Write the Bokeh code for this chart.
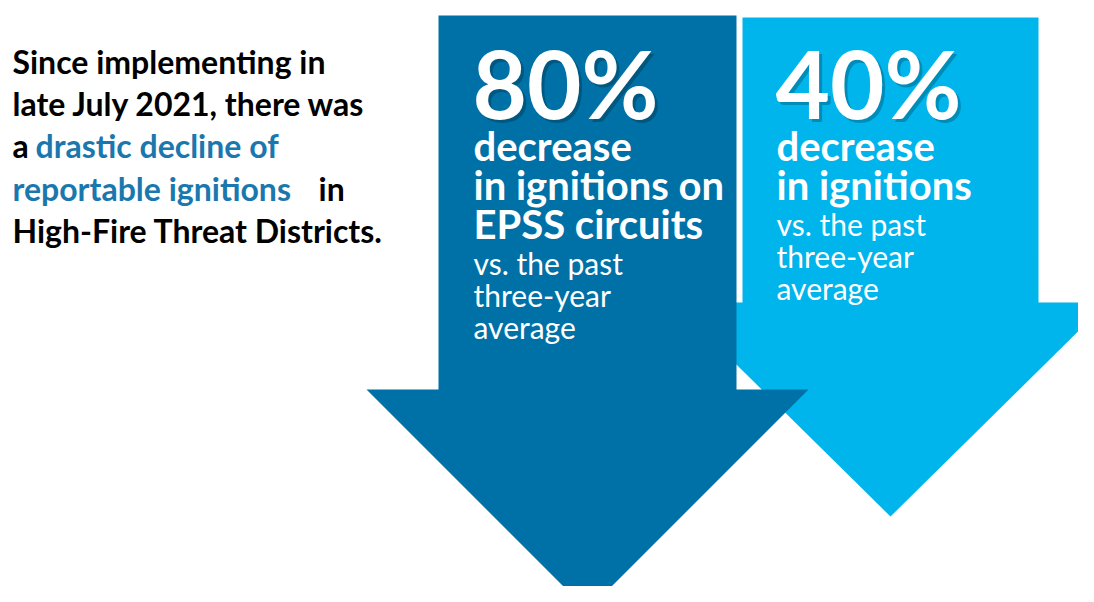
from bokeh.plotting import figure
from bokeh.models import Range1d
from bokeh.core.properties import value
from bokeh.embed import file_html
from bokeh.resources import INLINE

# ---------------- data ----------------
pct_labels = ["80%", "40%"]
pct_values = [80, 40]
headlines = [["decrease", "in ignitions on", "EPSS circuits"],
             ["decrease", "in ignitions"]]
sublines = [["vs. the past", "three-year", "average"],
            ["vs. the past", "three-year", "average"]]
arrow_colors = ["#0071A6", "#00B4EC"]

intro_plain_1 = "Since implementing in"
intro_plain_2 = "late July 2021, there was"
intro_pre_3 = "a"
intro_emph_3 = "drastic decline of"
intro_emph_4 = "reportable ignitions"
intro_post_4 = "in"
intro_plain_5 = "High-Fire Threat Districts."

# ---------------- layout (screen-pixel-like coordinates) ----------------
W, H = 1078, 586
p = figure(width=W, height=H, output_backend="svg", toolbar_location=None,
           x_range=Range1d(0, W), y_range=Range1d(H, 0),
           min_border=0, background_fill_color="white", border_fill_color="white")
p.axis.visible = False
p.grid.visible = False
p.outline_line_color = None

# arrow geometry: center, shaft half width, top, neck, head half width, tip
arrows = [
    dict(cx=587, sw=149, top=15, neck=389, hw=221, tip=610),
    dict(cx=890, sw=148, top=17, neck=302, hw=217, tip=516),
]

def arrow_poly(a):
    cx, sw, top, neck, hw, tip = a["cx"], a["sw"], a["top"], a["neck"], a["hw"], a["tip"]
    xs = [cx - sw, cx + sw, cx + sw, cx + hw, cx, cx - hw, cx - sw]
    ys = [top, top, neck, neck, tip, neck, neck]
    return xs, ys

# draw light (back) first, then dark
for i in [1, 0]:
    xs, ys = arrow_poly(arrows[i])
    p.patch(xs, ys, fill_color=arrow_colors[i], line_color=None)

FONT = value("Lato")
K = 0.38  # baseline compensation

def txt(x, y, s, color, size, style="bold", xo=0, yo=0, alpha=1.0):
    p.text(x=[x], y=[y - K * size], text=[s], text_color=color, text_font=FONT,
           text_font_size=f"{size}px", text_font_style=style, text_baseline="alphabetic",
           text_align="left", x_offset=xo, y_offset=yo, text_alpha=alpha)

# ---- intro text ----
black = "#000000"
blue = "#1A78AE"
base = [73, 115, 157, 200, 242]
fs_intro = 32

txt(12, base[0], intro_plain_1, black, fs_intro)
txt(12, base[1], intro_plain_2, black, fs_intro)
txt(12, base[2], intro_pre_3, black, fs_intro)
txt(35, base[2], intro_emph_3, blue, fs_intro)
txt(12, base[3], intro_emph_4, blue, fs_intro)
txt(318, base[3], intro_post_4, black, fs_intro)
txt(12, base[4], intro_plain_5, black, fs_intro)

# ---- arrow texts ----
text_x = [472, 775]
pct_base = 118
head_base = 161
head_pitch = 39
sub_pitch = 32

for i in range(2):
    x = text_x[i]
    txt(x, pct_base, pct_labels[i], "#000000", 94, xo=3, yo=3, alpha=0.22)
    txt(x, pct_base, pct_labels[i], "white", 94)
    for j, s in enumerate(headlines[i]):
        txt(x + 1, head_base + j * head_pitch, s, "white", 40)
    sb = head_base + (len(headlines[i]) - 1) * head_pitch + 35
    for j, s in enumerate(sublines[i]):
        txt(x + 1, sb + j * sub_pitch, s, "white", 30, style="normal")

open("out.html", "w").write(file_html(p, INLINE))
